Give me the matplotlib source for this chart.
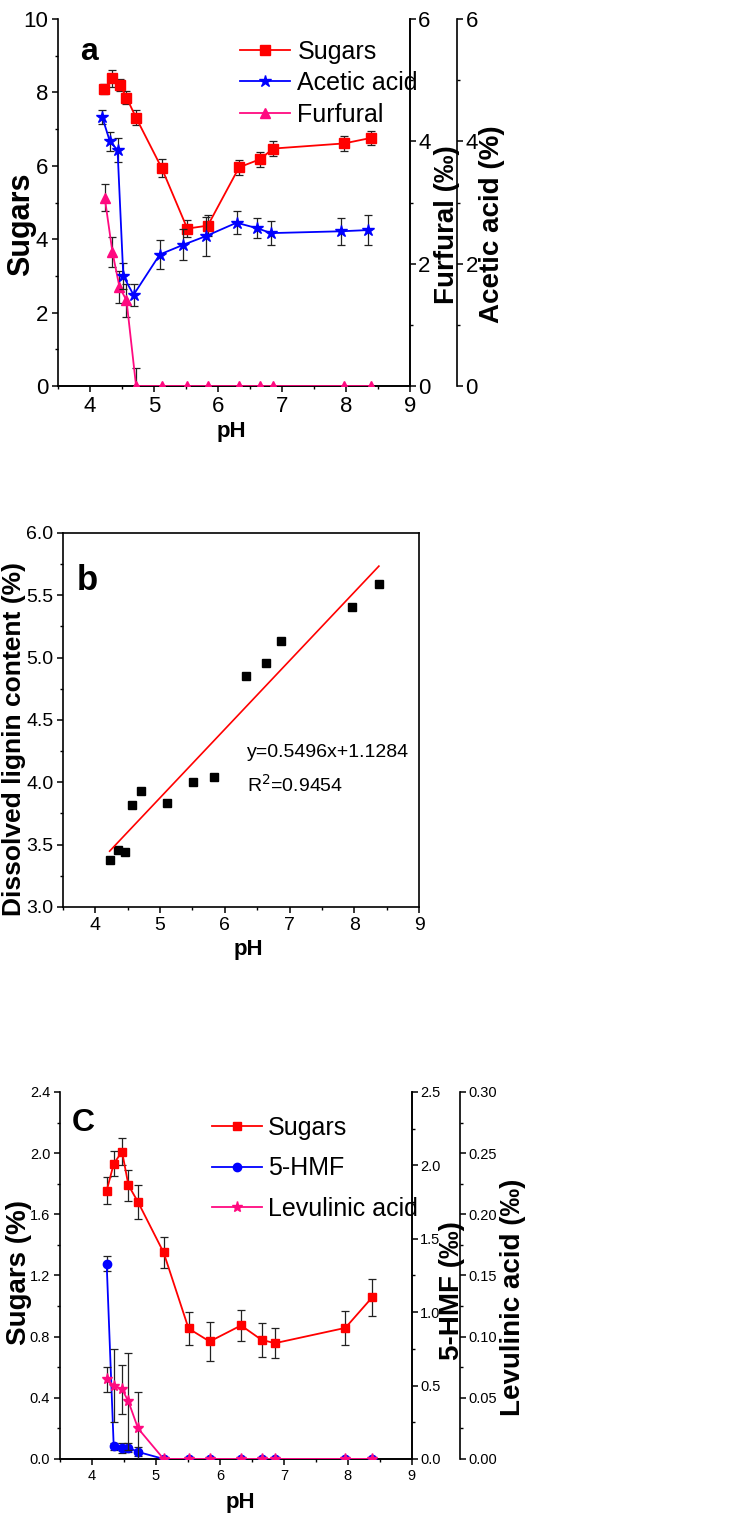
import matplotlib
matplotlib.use("Agg")
import matplotlib.pyplot as plt
import numpy as np
from matplotlib.ticker import MultipleLocator, FormatStrFormatter

FONT = ["Liberation Sans", "DejaVu Sans"]
plt.rcParams["font.family"] = FONT

RED = "#FF0000"
BLUE = "#0000FF"
PINK = "#FF0A80"
ERR = "#222222"

# ---- panel a ----
ph_a_sugar = [4.22, 4.35, 4.47, 4.57, 4.72, 5.12, 5.52, 5.84, 6.33, 6.66, 6.86, 7.97, 8.39]
sugar_a = [8.10, 8.38, 8.20, 7.86, 7.31, 5.94, 4.29, 4.37, 5.96, 6.18, 6.47, 6.61, 6.76]
sugar_a_err = [0.13, 0.23, 0.16, 0.18, 0.20, 0.24, 0.23, 0.29, 0.20, 0.21, 0.21, 0.20, 0.18]
ph_a_acetic = [4.19, 4.31, 4.43, 4.52, 4.68, 5.09, 5.46, 5.81, 6.29, 6.61, 6.83, 7.93, 8.35]
acetic = [4.40, 4.00, 3.86, 1.80, 1.49, 2.15, 2.31, 2.45, 2.67, 2.58, 2.50, 2.53, 2.55]
acetic_err = [0.12, 0.15, 0.20, 0.21, 0.18, 0.23, 0.25, 0.32, 0.19, 0.16, 0.20, 0.22, 0.25]
ph_a_furfural = [4.23, 4.35, 4.46, 4.57, 4.72, 5.12, 5.52, 5.84, 6.33, 6.66, 6.86, 7.97, 8.39]
furfural = [3.08, 2.19, 1.62, 1.40, 0.0, 0.0, 0.0, 0.0, 0.0, 0.0, 0.0, 0.0, 0.0]
furfural_err = [0.22, 0.24, 0.26, 0.27, 0.30, 0, 0, 0, 0, 0, 0, 0, 0]

# ---- panel b ----
ph_b = [4.22, 4.35, 4.46, 4.56, 4.71, 5.11, 5.51, 5.84, 6.32, 6.64, 6.86, 7.96, 8.38]
lignin = [3.38, 3.46, 3.44, 3.82, 3.93, 3.83, 4.00, 4.04, 4.85, 4.96, 5.13, 5.41, 5.59]
fit_slope = 0.5496
fit_intercept = 1.1284
fit_text = ["y=0.5496x+1.1284", "R$^2$=0.9454"]

# ---- panel c ----
ph_c = [4.23, 4.34, 4.47, 4.57, 4.72, 5.12, 5.51, 5.84, 6.33, 6.65, 6.86, 7.96, 8.38]
sugar_c = [1.754, 1.93, 2.01, 1.79, 1.68, 1.35, 0.853, 0.768, 0.873, 0.779, 0.757, 0.857, 1.057]
sugar_c_err = [0.088, 0.082, 0.09, 0.10, 0.11, 0.10, 0.11, 0.13, 0.10, 0.11, 0.10, 0.11, 0.12]
hmf = [1.33, 0.086, 0.077, 0.077, 0.048, 0.0, 0.0, 0.0, 0.0, 0.0, 0.0, 0.0, 0.0]
hmf_err = [0.05, 0.025, 0.035, 0.03, 0.03, 0, 0, 0, 0, 0, 0, 0, 0]
lev = [0.065, 0.060, 0.057, 0.047, 0.025, 0.0, 0.0, 0.0, 0.0, 0.0, 0.0, 0.0, 0.0]
lev_err = [0.010, 0.030, 0.020, 0.040, 0.030, 0, 0, 0, 0, 0, 0, 0, 0]

x_ticks = [4, 5, 6, 7, 8, 9]


def series(ax, x, y, err, color, marker, ms, label):
    x = np.asarray(x)
    y = np.asarray(y)
    err = np.asarray(err, dtype=float)
    keep = err > 0
    ax.errorbar(x[keep], y[keep], yerr=err[keep], fmt="none", ecolor=ERR,
                elinewidth=0.9, capsize=3, capthick=0.9, zorder=2)
    line, = ax.plot(x, y, color=color, marker=marker, markersize=ms, lw=1.3,
                    markeredgecolor=color, label=label, zorder=3)
    return line


def style_ticks(ax, size, axis="both", pad=2.5):
    ax.tick_params(axis=axis, which="major", direction="out", length=4.5, width=1.1,
                   labelsize=size, pad=pad)
    ax.tick_params(axis=axis, which="minor", direction="out", length=2.5, width=1.0)


def setup_x(ax):
    ax.set_xlim(3.5, 9)
    ax.xaxis.set_minor_locator(MultipleLocator(0.5))
    ax.set_xticks(x_ticks)


def third_axis(ax, offset):
    ax3 = ax.twinx()
    ax3.spines["right"].set_position(("axes", offset))
    for s in ("top", "left", "bottom"):
        ax3.spines[s].set_visible(False)
    return ax3


def ylabel(ax, text, size, x, y):
    ax.set_ylabel(text, fontsize=size, fontweight="bold", va="center", ha="center")
    ax.yaxis.set_label_coords(x, y)


def xlabel(ax, text, size, x, y):
    ax.set_xlabel(text, fontsize=size, fontweight="bold", va="center", ha="center")
    ax.xaxis.set_label_coords(x, y)


fig = plt.figure(figsize=(7.44, 15.21), dpi=100)

# ================= panel a =================
ax = fig.add_axes([0.078, 0.7462, 0.473, 0.2413])
ax2 = ax.twinx()
ax3 = third_axis(ax, 1.134)
for a in (ax, ax2):
    a.spines["top"].set_visible(False)
ax2.spines["left"].set_visible(False)
for a in (ax, ax2, ax3):
    for s in a.spines.values():
        s.set_linewidth(1.2)

l1 = series(ax, ph_a_sugar, sugar_a, sugar_a_err, RED, "s", 6.5, "Sugars")
l3 = series(ax2, ph_a_furfural, furfural, furfural_err, PINK, "^", 7.5, "Furfural")
l2 = series(ax3, ph_a_acetic, acetic, acetic_err, BLUE, "*", 9, "Acetic acid")

setup_x(ax)
ax.set_ylim(0, 10)
ax.yaxis.set_major_locator(MultipleLocator(2))
ax.yaxis.set_minor_locator(MultipleLocator(1))
for a in (ax2, ax3):
    a.set_ylim(0, 6)
    a.yaxis.set_major_locator(MultipleLocator(2))
    a.yaxis.set_minor_locator(MultipleLocator(1))
style_ticks(ax, 16)
style_ticks(ax2, 16, "y", pad=1.5)
style_ticks(ax3, 16, "y", pad=1.5)

ylabel(ax, "Sugars", 22, -0.104, 0.441)
ylabel(ax2, "Furfural (‰)", 20, 1.104, 0.439)
ylabel(ax3, "Acetic acid (%)", 20, 1.234, 0.441)
xlabel(ax, "pH", 16, 0.494, -0.125)
ax.text(0.089, 0.91, "a", transform=ax.transAxes, fontsize=23, fontweight="bold",
        ha="center", va="center")

ax3.legend(handles=[l1, l2, l3], loc="upper left", bbox_to_anchor=(0.517, 0.944),
           frameon=False, handlelength=2.0, handletextpad=0.3,
           labelspacing=0.3, borderpad=0, borderaxespad=0, numpoints=1,
           prop={"size": 18})

# ================= panel b =================
bx = fig.add_axes([0.0847, 0.4037, 0.4785, 0.2459])
for s in bx.spines.values():
    s.set_linewidth(1.2)
bx.plot(ph_b, lignin, linestyle="none", marker="s", color="black", markersize=5.5)
fit_x = np.array([ph_b[0], ph_b[-1]])
bx.plot(fit_x, fit_slope * fit_x + fit_intercept, color=RED, lw=1.2)
setup_x(bx)
bx.set_ylim(3.0, 6.0)
bx.yaxis.set_major_locator(MultipleLocator(0.5))
bx.yaxis.set_minor_locator(MultipleLocator(0.25))
bx.yaxis.set_major_formatter(FormatStrFormatter("%.1f"))
style_ticks(bx, 14)
ylabel(bx, "Dissolved lignin content (%)", 19, -0.139, 0.449)
xlabel(bx, "pH", 16, 0.52, -0.115)
bx.text(0.067, 0.874, "b", transform=bx.transAxes, fontsize=25, fontweight="bold",
        ha="center", va="center")
bx.text(0.517, 0.414, fit_text[0], transform=bx.transAxes, fontsize=14,
        ha="left", va="center")
bx.text(0.517, 0.326, fit_text[1], transform=bx.transAxes, fontsize=14,
        ha="left", va="center")

# ================= panel c =================
cx = fig.add_axes([0.0806, 0.0408, 0.473, 0.2413])
cx2 = cx.twinx()
cx3 = third_axis(cx, 1.136)
for a in (cx, cx2):
    a.spines["top"].set_visible(False)
cx2.spines["left"].set_visible(False)
for a in (cx, cx2, cx3):
    for s in a.spines.values():
        s.set_linewidth(1.2)

m1 = series(cx, ph_c, sugar_c, sugar_c_err, RED, "s", 6, "Sugars")
m2 = series(cx2, ph_c, hmf, hmf_err, BLUE, "o", 6, "5-HMF")
m3 = series(cx3, ph_c, lev, lev_err, PINK, "*", 8, "Levulinic acid")

setup_x(cx)
cx.set_ylim(0, 2.4)
cx.yaxis.set_major_locator(MultipleLocator(0.4))
cx.yaxis.set_minor_locator(MultipleLocator(0.2))
cx.yaxis.set_major_formatter(FormatStrFormatter("%.1f"))
cx2.set_ylim(0, 2.5)
cx2.yaxis.set_major_locator(MultipleLocator(0.5))
cx2.yaxis.set_minor_locator(MultipleLocator(0.25))
cx2.yaxis.set_major_formatter(FormatStrFormatter("%.1f"))
cx3.set_ylim(0, 0.30)
cx3.yaxis.set_major_locator(MultipleLocator(0.05))
cx3.yaxis.set_minor_locator(MultipleLocator(0.025))
cx3.yaxis.set_major_formatter(FormatStrFormatter("%.2f"))
style_ticks(cx, 10.5)
style_ticks(cx2, 10.5, "y", pad=1.5)
style_ticks(cx3, 10.5, "y", pad=1.5)

ylabel(cx, "Sugars (%)", 20, -0.115, 0.508)
ylabel(cx2, "5-HMF (‰)", 20, 1.113, 0.46)
ylabel(cx3, "Levulinic acid (‰)", 20, 1.287, 0.441)
xlabel(cx, "pH", 16, 0.514, -0.12)
cx.text(0.065, 0.916, "C", transform=cx.transAxes, fontsize=23, fontweight="bold",
        ha="center", va="center")

cx3.legend(handles=[m1, m2, m3], loc="upper left", bbox_to_anchor=(0.432, 0.935),
           frameon=False, handlelength=2.0, handletextpad=0.25,
           labelspacing=0.66, borderpad=0, borderaxespad=0, numpoints=1,
           prop={"size": 18})

fig.savefig("out.png", dpi=100)
